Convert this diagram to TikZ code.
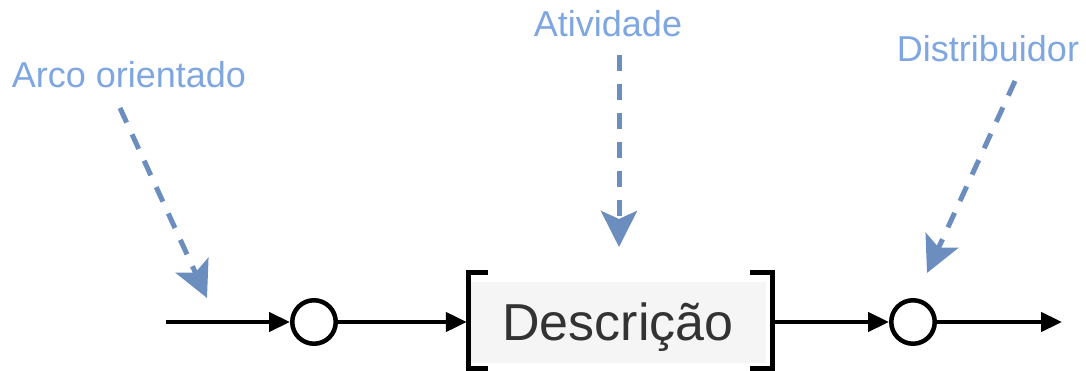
\documentclass[tikz,border=0pt]{standalone}
\usepackage{fontspec}
\setmainfont{Liberation Sans}
\usetikzlibrary{arrows.meta}
\definecolor{lblue}{HTML}{7EA6E0}
\definecolor{dblue}{HTML}{6C8EBF}
\definecolor{boxgray}{HTML}{F5F5F5}
\definecolor{txt}{HTML}{333333}
\begin{document}
\begin{tikzpicture}[x=1pt,y=-1pt,
  flow/.style={line width=4.5pt, -{Triangle[length=21pt,width=19pt]}},
  place/.style={circle, draw, fill=white, line width=4.5pt, minimum size=43.5pt, inner sep=0pt},
  note/.style={text=lblue, font=\fontsize{36}{40}\selectfont, inner sep=0pt},
  pointer/.style={draw=dblue, line width=5pt, dash pattern=on 16pt off 13pt, -{Stealth[length=36pt,width=36pt,inset=8pt]}},
  bracketline/.style={line width=4.8pt}]
\useasboundingbox (0,0) rectangle (1086,371);
% main flow
\node[place] (c1) at (314,322) {};
\node[place] (c2) at (913,322) {};
\node[fill=boxgray, minimum width=296pt, minimum height=81pt, inner sep=0pt,
      text height=37pt, text depth=0pt, text=txt,
      font=\fontsize{52}{60}\selectfont] (d) at (618,322) {Descrição};
\draw[bracketline] ([shift={(18,-9)}]d.north west) -- ([shift={(-1,-9)}]d.north west)
  -- ([shift={(-1,6)}]d.south west) -- ([shift={(18,6)}]d.south west);
\draw[bracketline] ([shift={(-16,-9)}]d.north east) -- ([shift={(6,-9)}]d.north east)
  -- ([shift={(6,6)}]d.south east) -- ([shift={(-16,6)}]d.south east);
\coordinate (s) at (166,322);
\coordinate (e) at (1062,322);
\draw[flow] (s) -- (c1);
\draw[flow] (c1) -- ([xshift=-3pt]d.west);
\draw[flow] ([xshift=6pt]d.east) -- (c2);
\draw[flow] (c2) -- (e);
% labels
\node[note, anchor=base] (l1) at (129,88) {Arco orientado};
\node[note, anchor=base] (l2) at (608,37) {Atividade};
\node[note, anchor=base] (l3) at (988,62) {Distribuidor};
\coordinate (p1s) at (120,108);
\coordinate (p1e) at (207,298);
\coordinate (p2s) at (619,55);
\coordinate (p2e) at (619,247);
\coordinate (p3s) at (1015,81);
\coordinate (p3e) at (927,273);
\draw[pointer] (p1s) -- (p1e);
\draw[pointer] (p2s) -- (p2e);
\draw[pointer] (p3s) -- (p3e);
\end{tikzpicture}
\end{document}
